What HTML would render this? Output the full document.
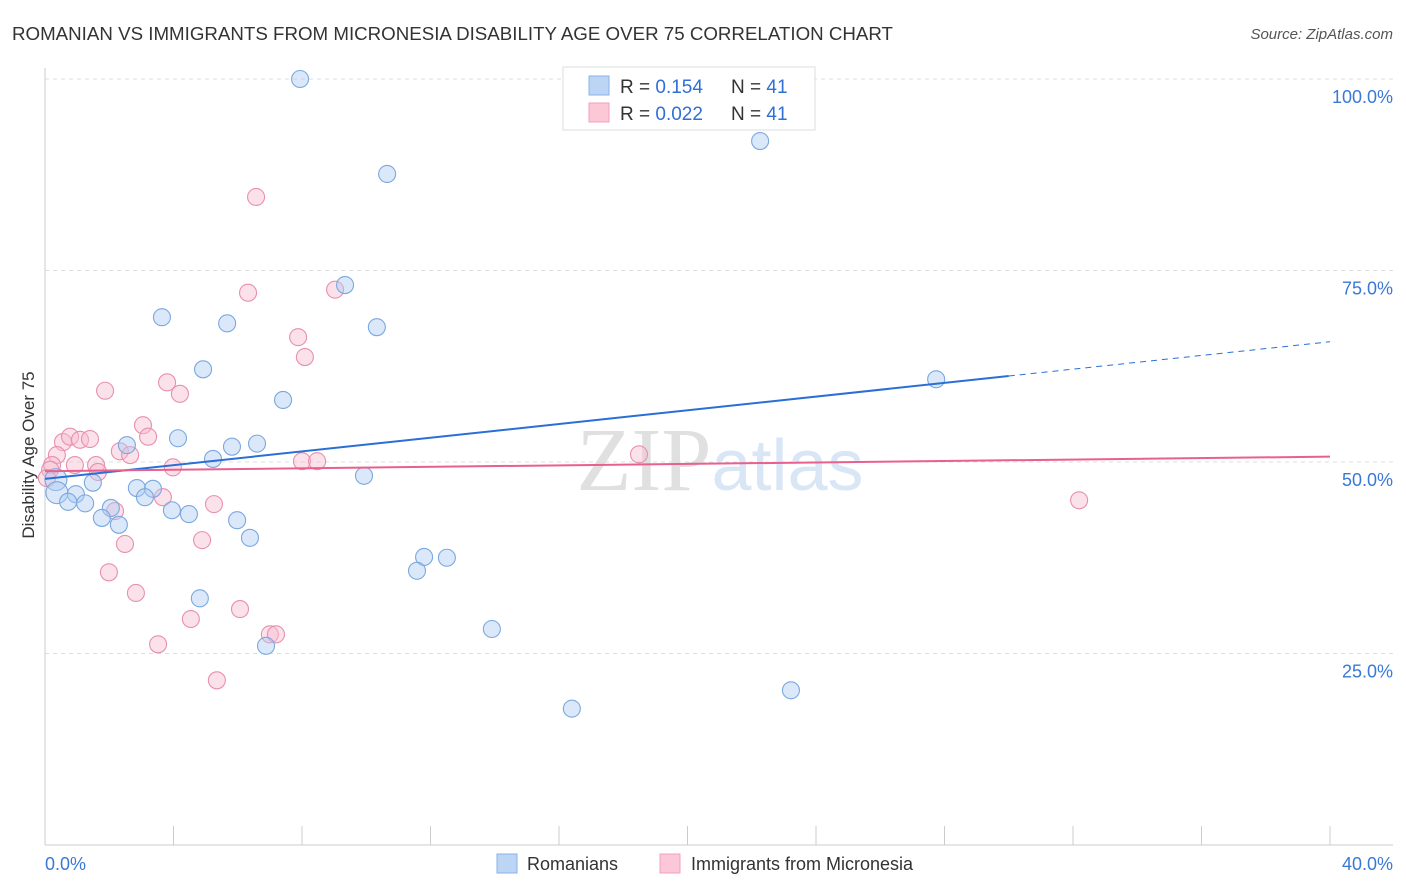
<!DOCTYPE html>
<html><head><meta charset="utf-8"><style>
body{margin:0;background:#fff;font-family:"Liberation Sans",sans-serif;}
svg{display:block}
</style></head><body>
<svg id="c" width="1406" height="892">
<text x="12" y="40" font-size="18.5" fill="#333" textLength="881" lengthAdjust="spacingAndGlyphs">ROMANIAN VS IMMIGRANTS FROM MICRONESIA DISABILITY AGE OVER 75 CORRELATION CHART</text>
<text x="1393" y="39" font-size="15" fill="#555" font-style="italic" text-anchor="end">Source: ZipAtlas.com</text>
<text x="720" y="490" font-size="90" fill="#ddd" text-anchor="middle" font-family="Liberation Serif"><tspan fill="#e0e0e0">ZIP</tspan><tspan fill="#d9e6f6" font-family="Liberation Sans" font-size="72">atlas</tspan></text>
<text transform="translate(34,455) rotate(-90)" font-size="17" fill="#333" text-anchor="middle">Disability Age Over 75</text>
<g id="grid"></g><g id="marks"></g><g id="lines"></g>
<g>
<rect x="563" y="67" width="252" height="63" fill="#fff" stroke="#ddd"/>
<rect x="589" y="76" width="20" height="19" fill="#bcd5f5" stroke="#8ab2e6"/>
<rect x="589" y="103" width="20" height="19" fill="#fcc8d8" stroke="#f0a0bb"/>
<text x="620" y="93" font-size="19" fill="#333">R = <tspan fill="#2f6fd6">0.154</tspan><tspan x="731">N = </tspan><tspan fill="#2f6fd6">41</tspan></text>
<text x="620" y="120" font-size="19" fill="#333">R = <tspan fill="#2f6fd6">0.022</tspan><tspan x="731">N = </tspan><tspan fill="#2f6fd6">41</tspan></text>
</g>
<g>
<rect x="497" y="854" width="20" height="19" fill="#bcd5f5" stroke="#8ab2e6"/>
<text x="527" y="870" font-size="18" fill="#333">Romanians</text>
<rect x="660" y="854" width="20" height="19" fill="#fcc8d8" stroke="#f0a0bb"/>
<text x="691" y="870" font-size="18" fill="#333">Immigrants from Micronesia</text>
</g>
</svg>
<script>
const blueX=[7.94,10.65,22.26,9.34,3.64,5.67,10.33,4.92,7.41,27.74,4.14,2.55,6.60,5.82,5.23,9.93,0.34,1.49,0.37,0.96,0.72,1.25,2.86,3.36,3.11,2.05,3.95,4.48,1.77,2.30,5.98,6.38,11.80,12.51,11.58,4.82,13.91,6.88,23.22,16.40,16.65];
const blueY=[100,87.6,91.9,73.1,68.9,68.1,67.6,62.1,58.1,60.8,53.1,52.2,52.4,52.0,50.4,48.2,47.7,47.3,46.0,45.8,44.8,44.6,46.6,46.5,45.4,44.0,43.7,43.2,42.7,41.8,42.4,40.1,37.6,37.5,35.8,32.2,28.2,26.0,20.2,17.8,100];
const pinkX=[6.57,6.32,9.03,7.88,8.09,1.87,3.80,4.20,3.05,3.21,0.56,0.78,1.09,1.40,2.33,2.65,0.37,0.22,0.93,1.59,1.65,3.98,8.00,8.47,18.49,3.67,5.26,2.18,4.89,2.49,1.99,2.83,6.07,4.54,7.00,7.19,3.52,5.35,32.19,0.16,0.06];
const pinkY=[84.6,72.1,72.5,66.3,63.7,59.3,60.4,58.9,54.8,53.3,52.6,53.3,52.9,53.0,51.4,50.9,50.9,49.6,49.6,49.6,48.7,49.3,50.1,50.1,51.0,45.4,44.5,43.6,39.8,39.3,35.6,32.9,30.8,29.5,27.5,27.5,26.2,21.5,45.0,49.0,47.9];
const yTicks=[25,50,75,100];
const yTickLabels=["25.0%","50.0%","75.0%","100.0%"];
const xTicks=[0,4,8,12,16,20,24,28,32,36,40];
const blueTrend=[47.8,65.7],blueSolidEnd=30.0;
const pinkTrend=[48.8,50.7];
const NS="http://www.w3.org/2000/svg";
const sx=v=>45+v/40*1285, sy=v=>845-v/100*766;
function mk(t,a,p){const e=document.createElementNS(NS,t);for(const k in a)e.setAttribute(k,a[k]);p.appendChild(e);return e;}
const grid=document.getElementById('grid'),marks=document.getElementById('marks'),lines=document.getElementById('lines');
let ax=mk('line',{x1:45,y1:68,x2:45,y2:845,stroke:'#ccc'},grid);

let bx=mk('line',{x1:45,y1:845,x2:1393,y2:845,stroke:'#ccc'},grid);

yTicks.forEach((v,i)=>{const g=mk('line',{x1:45,y1:sy(v),x2:1393,y2:sy(v),stroke:'#ddd','stroke-dasharray':'4,4'},grid);

const t=mk('text',{x:1393,y:sy(v)+24,'font-size':18,fill:'#3a78d8','text-anchor':'end'},grid);t.textContent=yTickLabels[i];
});
xTicks.forEach(v=>{const l=mk('line',{x1:sx(v),y1:826,x2:sx(v),y2:845,stroke:'#ccc'},grid);
});
let t0=mk('text',{x:45,y:870,'font-size':18,fill:'#3a78d8'},grid);t0.textContent='0.0%';

let t1=mk('text',{x:1393,y:870,'font-size':18,fill:'#3a78d8','text-anchor':'end'},grid);t1.textContent='40.0%';

function pts(X,Y,fill,stroke,name){X.forEach((x,i)=>{const big=x<0.5&&Y[i]>45&&Y[i]<48.5&&name==='romanian-point';
const c=mk('circle',{cx:sx(x),cy:sy(Y[i]),r:big?11:8.5,fill:fill,'fill-opacity':0.45,stroke:stroke,'stroke-width':1.1},marks);
});}
pts(pinkX,pinkY,'#f7bcd0','#e890ad','micronesia-point');
pts(blueX,blueY,'#b0cdf2','#7aa8e0','romanian-point');
const bAt=x=>blueTrend[0]+(blueTrend[1]-blueTrend[0])*x/40;
let l1=mk('line',{x1:sx(0),y1:sy(bAt(0)),x2:sx(blueSolidEnd),y2:sy(bAt(blueSolidEnd)),stroke:'#2a6fd6','stroke-width':2},lines);

let l2=mk('line',{x1:sx(blueSolidEnd),y1:sy(bAt(blueSolidEnd)),x2:sx(40),y2:sy(bAt(40)),stroke:'#2a6fd6','stroke-width':1,'stroke-dasharray':'6,5'},lines);

let l3=mk('line',{x1:sx(0),y1:sy(pinkTrend[0]),x2:sx(40),y2:sy(pinkTrend[1]),stroke:'#e8608e','stroke-width':2},lines);

</script>
</body></html>
